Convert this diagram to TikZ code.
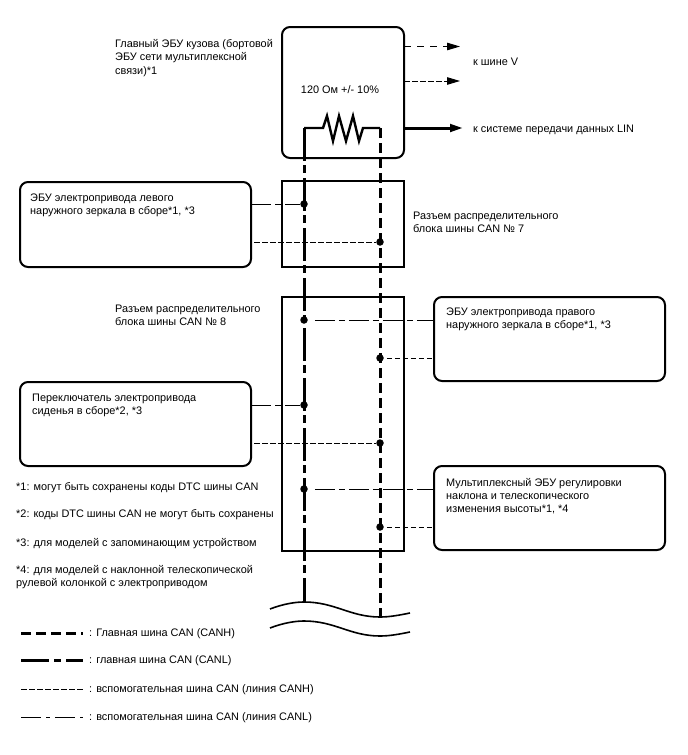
\documentclass[tikz,border=0pt]{standalone}
\usepackage{fontspec}
\setmainfont{Liberation Sans}
\usetikzlibrary{arrows.meta}
\tikzset{
  lbl/.style={anchor=west,inner sep=0pt,yshift=-1pt,align=left,font=\fontsize{10.9}{13.2}\selectfont},
  ecubox/.style={draw,line width=2pt,rounded corners=8pt,anchor=north west,outer sep=0pt},
  jointbox/.style={draw,line width=2pt,anchor=north west,outer sep=0pt},
  dotnode/.style={circle,fill,inner sep=0pt,minimum size=7.5pt},
  mainh/.style={line width=3pt,dash pattern=on 10pt off 5pt},
  mainl/.style={line width=3pt,dash pattern=on 33pt off 4pt on 8pt off 5pt},
  subh/.style={line width=1pt,dash pattern=on 5.5pt off 2.5pt},
  subl/.style={line width=1pt,dash pattern=on 20pt off 4pt on 6pt off 4pt},
  tip/.style={-{Triangle[length=13pt,width=7.5pt]}}
}
\begin{document}
\begin{tikzpicture}[x=1pt,y=-1pt]
  \useasboundingbox (0,0) rectangle (688,755);
  \pgfmathsetmacro{\xl}{304}
  \pgfmathsetmacro{\xh}{380}
  % boxes
  \node[ecubox,minimum width=122pt,minimum height=131pt] (mainecu) at (282,27) {};
  \node[jointbox,minimum width=122pt,minimum height=86pt] (joint7) at (282,181) {};
  \node[jointbox,minimum width=122pt,minimum height=254pt] (joint8) at (282,297) {};
  \node[ecubox,minimum width=231pt,minimum height=85pt] (mirrorl) at (20,182) {};
  \node[ecubox,minimum width=231pt,minimum height=84pt] (seat) at (20,382) {};
  \node[ecubox,minimum width=231pt,minimum height=84pt] (mirrorr) at (434,297) {};
  \node[ecubox,minimum width=231pt,minimum height=84pt] (tilt) at (434,466) {};
  % texts
  \node[lbl] (tmain) at (115,57) {Главный ЭБУ кузова (бортовой\\ЭБУ сети мультиплексной\\связи)*1};
  \node[lbl] (tv) at (473,61) {к шине V};
  \node[lbl,anchor=center] (tres) at (340,89) {120 Ом +/- 10\%};
  \node[lbl] (tlin) at (473,129) {к системе передачи данных LIN};
  \node[lbl] (tmirrorl) at (30,204) {ЭБУ электропривода левого\\наружного зеркала в сборе*1, *3};
  \node[lbl] (tj7) at (413,221) {Разъем распределительного\\блока шины CAN № 7};
  \node[lbl] (tj8) at (115,314) {Разъем распределительного\\блока шины CAN № 8};
  \node[lbl] (tmirrorr) at (446,318) {ЭБУ электропривода правого\\наружного зеркала в сборе*1, *3};
  \node[lbl] (tseat) at (32,404) {Переключатель электропривода\\сиденья в сборе*2, *3};
  \node[lbl] (ttilt) at (446,495) {Мультиплексный ЭБУ регулировки\\наклона и телескопического\\изменения высоты*1, *4};
  \node[lbl] (tn1) at (16,487) {*1: могут быть сохранены коды DTC шины CAN};
  \node[lbl] (tn2) at (16,514) {*2: коды DTC шины CAN не могут быть сохранены};
  \node[lbl] (tn3) at (16,543) {*3: для моделей с запоминающим устройством};
  \node[lbl] (tn4) at (16,576) {*4: для моделей с наклонной телескопической\\рулевой колонкой с электроприводом};
  \node[lbl] (tlg1) at (89,633) {: Главная шина CAN (CANH)};
  \node[lbl] (tlg2) at (89,660) {: главная шина CAN (CANL)};
  \node[lbl] (tlg3) at (89,689) {: вспомогательная шина CAN (линия CANH)};
  \node[lbl] (tlg4) at (89,717) {: вспомогательная шина CAN (линия CANL)};
  % resistor and main bus
  \coordinate (resl) at (\xl,128);
  \coordinate (resh) at (\xh,128);
  \coordinate (wavl) at (\xl,602);
  \coordinate (wavh) at (\xh,617);
  \draw[line width=2.4pt,miter limit=10] (resl) -- (323,128) -- (327,116) -- (333,141) -- (339,116)
  -- (346,141) -- (353,116) -- (359,141) -- (363,128) -- (resh);
  \draw[mainl] (resl) -- (wavl);
  \draw[mainh] (resh) -- (wavh);
  % joints on the bus
  \node[dotnode] (da) at (\xl,204) {};
  \node[dotnode] (db) at (\xh,242) {};
  \node[dotnode] (dc) at (\xl,320) {};
  \node[dotnode] (dd) at (\xh,358) {};
  \node[dotnode] (de) at (\xl,405) {};
  \node[dotnode] (df) at (\xh,443) {};
  \node[dotnode] (dg) at (\xl,489) {};
  \node[dotnode] (dh) at (\xh,527) {};
  % branch lines
  \draw[subl] (da -| mirrorl.east) -- (da);
  \draw[subh,shorten <=3pt] (db -| mirrorl.east) -- (db);
  \draw[subl,shorten <=7pt] (dc) -- (dc -| mirrorr.west);
  \draw[subh,shorten <=3pt] (dd) -- (dd -| mirrorr.west);
  \draw[subl] (de -| seat.east) -- (de);
  \draw[subh,shorten <=3pt] (df -| seat.east) -- (df);
  \draw[subl,shorten <=7pt] (dg) -- (dg -| tilt.west);
  \draw[subh,shorten <=3pt] (dh) -- (dh -| tilt.west);
  % outgoing arrows
  \coordinate (ga) at (460,46.5);
  \coordinate (gb) at (460,81);
  \coordinate (gc) at (463,128);
  \draw[tip,line width=1pt,dash pattern=on 7pt off 6pt] (ga -| mainecu.east) -- (ga);
  \draw[tip,line width=1pt,dash pattern=on 5.5pt off 2.5pt] (gb -| mainecu.east) -- (gb);
  \draw[tip,line width=3pt] (gc -| mainecu.east) -- (gc);
  % break in the bus
  \draw[line width=1.6pt] (270,609) .. controls (283,604) and (295,602) .. (wavl)
  .. controls (335,602) and (350,617) .. (wavh) .. controls (390,617) and (400,615) .. (410,613);
  \draw[line width=1.6pt] (270,628) .. controls (283,623) and (295,621) .. (304,621)
  .. controls (335,621) and (350,636) .. (380,636) .. controls (390,636) and (400,634) .. (410,632);
  % legend
  \coordinate (lga) at (21,633);
  \coordinate (lgb) at (83,633);
  \coordinate (lgc) at (21,660);
  \coordinate (lgd) at (83,660);
  \coordinate (lge) at (21,689);
  \coordinate (lgf) at (83,689);
  \coordinate (lgg) at (21,717);
  \coordinate (lgh) at (83,717);
  \draw[mainh] (lga) -- (lgb);
  \draw[mainl,dash pattern=on 28pt off 5pt on 7pt off 5pt on 17pt off 5pt] (lgc) -- (lgd);
  \draw[subh] (lge) -- (lgf);
  \draw[subl,dash pattern=on 20pt off 5pt on 4pt off 5pt] (lgg) -- (lgh);
\end{tikzpicture}
\end{document}
